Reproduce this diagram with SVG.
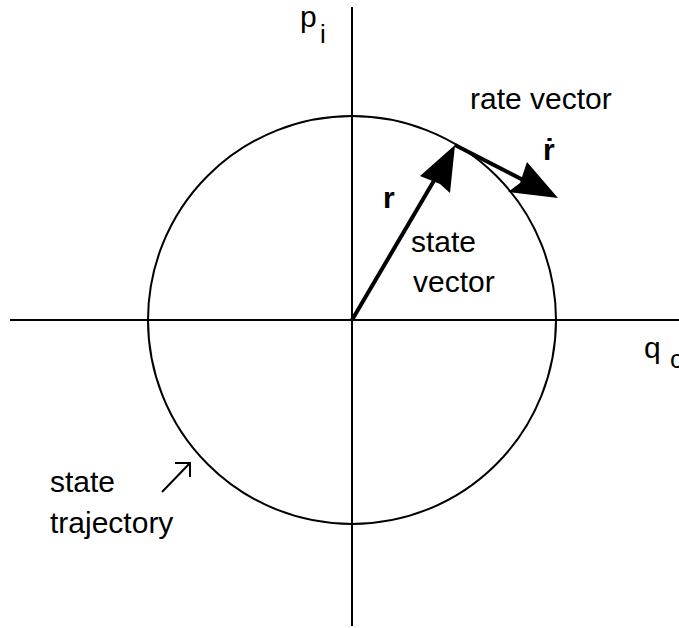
<svg xmlns="http://www.w3.org/2000/svg" width="679" height="628" viewBox="0 0 679 628">
<style>
.ax{stroke:#000;stroke-width:2;fill:none}
.t{font-family:"Liberation Sans",Arial,sans-serif;font-size:30px;fill:#000}
.b{font-weight:bold}
.vec{stroke:#000;stroke-width:4;fill:none}
</style>
<rect width="679" height="628" fill="#fff"/>
<g id="axes">
<line class="ax" x1="352" y1="7" x2="352" y2="626"/>
<line class="ax" x1="10" y1="320" x2="679" y2="320"/>
</g>
<g id="trajectory">
<circle class="ax" cx="352" cy="320" r="204"/>
</g>
<g id="labels">
<text class="t" x="300" y="27">p</text>
<text class="t" x="320" y="43" style="font-size:26px">i</text>
<text class="t" x="644" y="358">q</text>
<text class="t" x="670" y="368" style="font-size:26px">c</text>
<text class="t" x="470" y="109">rate vector</text>
<text class="t b" x="543" y="160">ṙ</text>
<text class="t b" x="383" y="208">r</text>
<text class="t" x="411" y="252">state</text>
<text class="t" x="413" y="292">vector</text>
<text class="t" x="50" y="492">state</text>
<text class="t" x="50" y="533">trajectory</text>
</g>
<g id="connectors">
<line class="vec" x1="352" y1="320" x2="442" y2="167"/>
<path d="M455,145 L450,193 L440,184 L420,176 Z" fill="#000"/>
<line class="vec" x1="455" y1="145" x2="535" y2="186"/>
<path d="M558,198 L508,192 L520,183 L527,162 Z" fill="#000"/>
<path class="ax" d="M162,492 L190,463 M175,463 L190,463 L190,477"/>
</g>
</svg>
